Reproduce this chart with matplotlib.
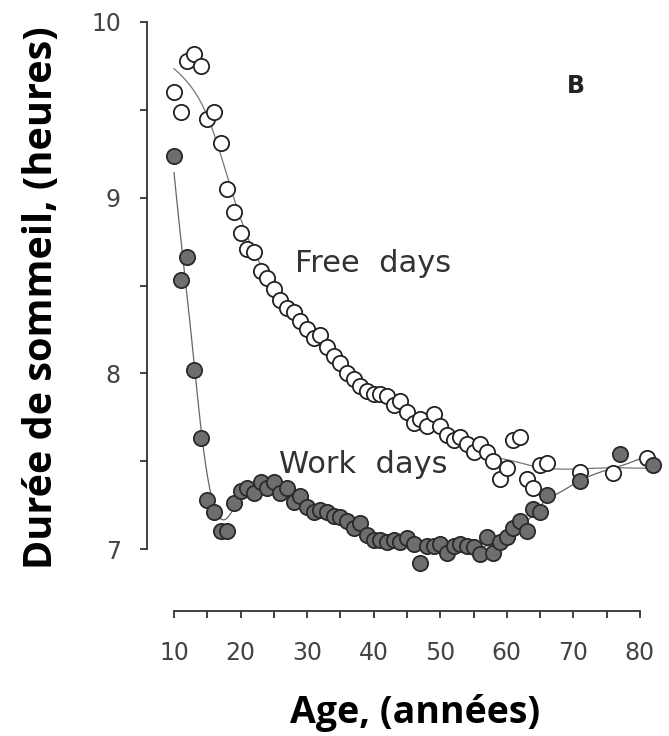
import numpy as np
import matplotlib
matplotlib.use("Agg")
import matplotlib.pyplot as plt

# sleep duration by age (hours)
free_age = [10, 11, 12, 13, 14, 15, 16, 17, 18, 19, 20, 21, 22, 23, 24, 25, 26, 27, 28, 29,
            30, 31, 32, 33, 34, 35, 36, 37, 38, 39, 40, 41, 42, 43, 44, 45, 46, 47, 48, 49,
            50, 51, 52, 53, 54, 55, 56, 57, 58, 59, 60, 61, 62, 63, 64, 65, 66, 71, 76, 81]
free_sleep = [9.60, 9.49, 9.78, 9.82, 9.75, 9.45, 9.49, 9.31, 9.05, 8.92, 8.80, 8.71, 8.69, 8.58,
              8.54, 8.48, 8.42, 8.37, 8.35, 8.30, 8.25, 8.20, 8.22, 8.15, 8.10, 8.06, 8.00, 7.97,
              7.93, 7.90, 7.88, 7.88, 7.87, 7.82, 7.84, 7.78, 7.72, 7.74, 7.70, 7.77, 7.70, 7.65,
              7.62, 7.64, 7.60, 7.55, 7.60, 7.55, 7.50, 7.40, 7.46, 7.62, 7.64, 7.40, 7.35, 7.48,
              7.49, 7.44, 7.43, 7.52]

work_age = [10, 11, 12, 13, 14, 15, 16, 17, 18, 19, 20, 21, 22, 23, 24, 25, 26, 27, 28, 29,
            30, 31, 32, 33, 34, 35, 36, 37, 38, 39, 40, 41, 42, 43, 44, 45, 46, 47, 48, 49,
            50, 51, 52, 53, 54, 55, 56, 57, 58, 59, 60, 61, 62, 63, 64, 65, 66, 71, 77, 82]
work_sleep = [9.24, 8.53, 8.66, 8.02, 7.63, 7.28, 7.21, 7.10, 7.10, 7.26, 7.33, 7.35, 7.32, 7.38,
              7.35, 7.38, 7.32, 7.35, 7.27, 7.30, 7.24, 7.21, 7.22, 7.21, 7.19, 7.18, 7.16, 7.12,
              7.15, 7.08, 7.05, 7.05, 7.04, 7.05, 7.04, 7.06, 7.03, 6.92, 7.02, 7.02, 7.03, 6.98,
              7.02, 7.03, 7.02, 7.01, 6.97, 7.07, 6.98, 7.04, 7.07, 7.12, 7.16, 7.10, 7.23, 7.21,
              7.31, 7.39, 7.54, 7.48]


def smooth(x, y, k, scale=0.55, n=500, win=60):
    # local linear fit, gaussian weights; bandwidth follows the k-th nearest
    # point and is itself smoothed along the grid so the curve has no kinks
    x = np.asarray(x, float)
    y = np.asarray(y, float)
    xs = np.linspace(x.min(), x.max(), n)
    bw = np.array([np.sort(np.abs(x - x0))[k - 1] for x0 in xs]) * scale + 0.3
    ker = np.exp(-0.5 * (np.arange(-win, win + 1) / (win / 2.5)) ** 2)
    ker /= ker.sum()
    bw = np.convolve(np.pad(bw, win, mode='edge'), ker, mode='valid')
    ys = []
    for x0, b in zip(xs, bw):
        w = np.exp(-0.5 * ((x - x0) / b) ** 2)
        X = np.column_stack([np.ones_like(x), x - x0])
        W = np.diag(w)
        beta = np.linalg.lstsq(X.T @ W @ X, X.T @ W @ y, rcond=None)[0]
        ys.append(beta[0])
    return xs, np.array(ys)


fig = plt.figure(figsize=(6.69, 7.36), dpi=100)
ax = fig.add_axes([0.2203, 0.1705, 0.776, 0.8235])

fx, fy = smooth(free_age, free_sleep, 9)
wx, wy = smooth(work_age, work_sleep, 4, win=20)
ax.plot(fx, fy, color='#777777', lw=0.9, zorder=1)
ax.plot(wx, wy, color='#666666', lw=0.9, zorder=1)

ax.plot(free_age, free_sleep, 'o', ms=11, mfc='white', mec='#222222', mew=1.3, zorder=2)
ax.plot(work_age, work_sleep, 'o', ms=11, mfc='#6e6e6e', mec='#2a2a2a', mew=1.3, zorder=3)

ax.text(39.9, 8.577, 'Free  days', fontsize=22, color='#333333', ha='center', va='baseline')
ax.text(38.5, 7.43, 'Work  days', fontsize=22, color='#333333', ha='center', va='baseline')
ax.text(70.4, 9.633, 'B', fontsize=17, fontweight='bold', color='#222222', ha='center', va='center')

ax.set_xlim(6, 84)
ax.set_ylim(6.65, 10.1)
ax.set_xticks(range(10, 81, 10))
ax.set_xticks(range(15, 80, 10), minor=True)
ax.set_yticks([7, 8, 9, 10])
ax.set_yticks([7.5, 8.5, 9.5], minor=True)

for s in ['top', 'right']:
    ax.spines[s].set_visible(False)
ax.spines['left'].set_bounds(7, 10)
ax.spines['bottom'].set_bounds(10, 80)
for s in ['left', 'bottom']:
    ax.spines[s].set_color('#333333')
    ax.spines[s].set_linewidth(1.3)

ax.tick_params(axis='both', which='both', direction='out', length=5, width=1.3,
               color='#333333', labelcolor='#444444', labelsize=17)
ax.tick_params(axis='y', which='both', pad=14)
ax.tick_params(axis='x', which='both', pad=17)

fig.text(415 / 669, 1 - 723 / 736, 'Age, (années)', family='Open Sans', fontweight='bold',
         fontsize=27, ha='center', va='baseline')
fig.text(52 / 669, 1 - 298 / 736, 'Durée de sommeil, (heures)', family='Open Sans',
         fontweight='bold', fontsize=28.5, rotation=90, rotation_mode='anchor',
         ha='center', va='baseline')

fig.savefig('out.png', dpi=100)
